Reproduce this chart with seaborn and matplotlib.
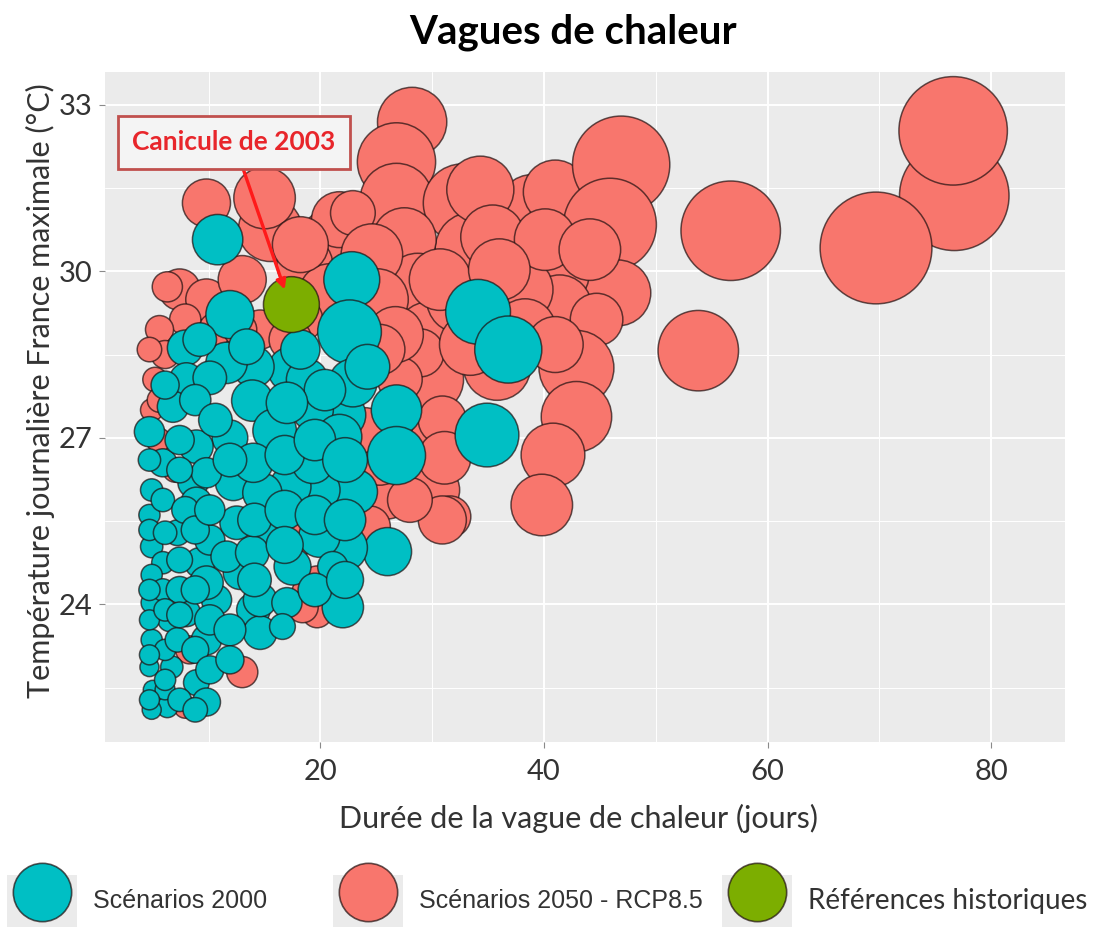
import matplotlib
matplotlib.use("Agg")
import matplotlib.pyplot as plt
from matplotlib.lines import Line2D
from matplotlib.patches import Patch
from matplotlib.legend_handler import HandlerTuple
import pandas as pd
import seaborn as sns

# --- Scénarios 2050 - RCP8.5 (durée en jours, Tmax en °C, sévérité) ---
duree_2050 = [28.2, 26.8, 26.8, 32.7, 33.6, 39.0, 41.0, 34.3, 46.9, 45.9,
              46.6, 40.8, 41.4, 44.7, 42.9, 42.9, 40.8, 39.8, 35.4, 36.0,
              35.8, 27.5, 28.7, 29.8, 29.8, 21.1, 21.7, 15.5, 15.0, 22.9,
              9.8, 7.4, 9.8, 13.0, 6.3, 30.1, 31.6, 30.1, 28.9, 27.1,
              30.9, 31.1, 30.9, 26.0, 24.4, 19.1, 19.7, 13.0, 18.6, 20.8,
              24.6, 25.1, 26.7, 32.5, 33.4, 37.8, 38.3, 25.3, 25.3, 24.0,
              19.9, 18.2, 14.6, 17.3, 10.6, 7.9, 5.6, 6.1, 5.2, 4.9,
              5.5, 7.0, 18.2, 19.7, 18.4, 8.3, 7.9, 15.9, 30.7, 40.1,
              44.1, 36.0, 41.0, 28.0, 12.8, 18.2, 4.7, 5.6,
              76.7, 76.6, 69.7, 56.7, 53.8]
tmax_2050 = [32.69, 31.97, 31.29, 31.23, 30.39, 31.11, 31.43, 31.47, 31.92, 30.84,
             29.61, 29.97, 29.36, 29.13, 28.26, 27.38, 26.69, 25.79, 30.62, 28.71,
             28.28, 30.57, 29.72, 28.82, 28.05, 30.57, 30.93, 30.75, 31.32, 31.05,
             31.23, 29.67, 29.49, 29.85, 29.72, 26.06, 25.58, 27.02, 28.53, 28.05,
             27.32, 26.64, 25.52, 25.94, 25.40, 24.21, 23.85, 22.78, 30.12, 29.58,
             30.30, 29.49, 28.86, 29.49, 28.68, 29.67, 28.95, 28.59, 26.60, 27.14,
             26.87, 29.13, 28.95, 28.77, 28.95, 29.13, 28.95, 28.50, 28.05, 27.50,
             26.96, 26.42, 25.22, 24.39, 23.95, 23.18, 22.15, 26.78, 29.85, 30.57,
             30.39, 30.03, 28.68, 25.88, 28.95, 30.48, 28.59, 27.68,
             31.36, 32.53, 30.42, 30.73, 28.57]
severite_2050 = [38.4, 49.0, 42.3, 49.0, 44.9, 39.7, 32.5, 36.0, 75.7, 68.9,
                 34.8, 42.3, 32.5, 22.1, 44.9, 39.7, 32.5, 30.3, 32.5, 30.3,
                 36.0, 32.5, 36.0, 39.7, 36.0, 32.5, 25.0, 32.5, 30.3, 16.0,
                 18.5, 13.7, 13.7, 18.5, 7.3, 22.1, 13.7, 16.0, 18.5, 16.0,
                 18.5, 22.1, 18.5, 16.0, 13.7, 10.9, 7.3, 7.8, 25.0, 30.3,
                 30.3, 30.3, 25.0, 36.0, 30.3, 36.0, 30.3, 20.3, 20.3, 16.0,
                 12.3, 16.0, 12.3, 14.4, 9.0, 7.8, 6.3, 6.3, 4.8, 4.0,
                 4.8, 4.8, 10.9, 9.0, 7.8, 6.3, 4.0, 9.0, 30.3, 30.3,
                 30.3, 30.3, 25.0, 16.0, 9.0, 25.0, 4.8, 4.8,
                 96.0, 94.1, 100.0, 79.2, 51.8]

# --- Scénarios 2000 ---
duree_2000 = [10.8, 11.9, 22.8, 22.6, 34.1, 36.8, 34.9, 26.8, 26.8, 23.1,
              26.0, 22.0, 22.1, 19.9, 19.9, 21.9, 19.3, 22.9, 24.2, 17.3,
              14.0, 11.6, 7.9, 9.2, 8.0, 13.9, 15.9, 11.9, 8.9, 4.7,
              6.8, 5.9, 17.3, 12.2, 8.6, 14.8, 17.5, 14.0, 14.6, 12.8,
              8.9, 9.8, 7.2, 9.2, 10.7, 9.8, 8.9, 9.8, 6.7, 6.3,
              4.9, 15.7, 9.8, 10.1, 4.9, 4.9, 4.9, 4.7, 5.0, 5.9,
              6.5, 8.0, 11.6, 13.9, 12.5, 14.6, 17.0, 16.6, 21.1, 4.7,
              4.9, 4.7, 4.9, 4.7, 5.9, 5.9, 6.1, 6.1, 7.2, 7.4,
              7.9, 7.4, 10.1, 18.8, 20.4, 17.0, 21.7, 19.3, 14.0,
              4.7, 4.7, 4.7, 4.7, 6.1, 6.1, 6.1, 7.4, 7.4, 7.4,
              7.4, 8.8, 8.8, 8.8, 8.8, 10.1, 10.1, 10.1, 11.9, 11.9,
              11.9, 14.1, 14.1, 16.8, 16.8, 16.8, 19.5, 19.5, 19.5, 22.2,
              22.2, 22.2, 6.1, 8.8, 10.6, 13.4, 18.2]
tmax_2000 = [30.57, 29.22, 29.85, 28.91, 29.27, 28.59, 27.05, 27.50, 26.68, 26.03,
             24.95, 23.95, 25.02, 25.22, 26.06, 27.41, 27.50, 27.99, 28.28, 28.23,
             28.28, 28.35, 28.62, 28.77, 28.05, 27.67, 27.13, 27.00, 26.84, 27.11,
             27.56, 26.55, 26.12, 26.19, 26.19, 26.01, 24.68, 23.90, 23.49, 24.57,
             25.83, 26.37, 25.29, 24.75, 24.08, 23.36, 22.59, 22.24, 22.87, 22.15,
             22.10, 25.31, 24.39, 25.16, 25.04, 24.03, 23.36, 22.87, 22.46, 24.75,
             23.72, 23.85, 24.86, 24.93, 25.47, 24.08, 24.03, 23.60, 24.68, 26.60,
             26.06, 25.61, 24.53, 23.72, 25.88, 24.26, 23.18, 22.46, 23.36, 24.26,
             25.70, 26.96, 28.08, 28.05, 27.86, 27.63, 27.02, 26.55, 26.55,
             25.34, 24.26, 23.09, 22.28, 25.29, 23.90, 22.64, 26.42, 24.80, 23.81,
             22.28, 25.34, 24.26, 23.18, 22.10, 25.70, 23.72, 22.82, 26.60, 23.54,
             23.00, 25.52, 24.44, 26.69, 25.70, 25.07, 26.96, 25.61, 24.26, 26.60,
             25.52, 24.44, 27.95, 27.68, 27.32, 28.64, 28.59]
severite_2000 = [20.3, 18.5, 25.0, 32.5, 33.6, 36.0, 32.5, 20.3, 27.0, 16.0,
                 18.5, 13.7, 17.6, 13.7, 13.7, 18.5, 13.7, 18.5, 16.0, 16.0,
                 13.7, 13.7, 10.2, 9.0, 9.0, 13.7, 15.2, 10.2, 9.0, 7.3,
                 7.8, 6.3, 13.7, 10.2, 7.3, 12.3, 10.9, 9.0, 9.0, 9.0,
                 7.8, 7.3, 5.3, 7.3, 7.3, 7.3, 5.3, 6.3, 4.0, 3.6,
                 2.9, 10.9, 9.0, 7.3, 4.0, 3.6, 3.6, 2.9, 2.9, 4.0,
                 4.4, 6.3, 7.8, 9.0, 9.0, 9.0, 7.3, 5.3, 7.3, 4.0,
                 4.0, 3.6, 3.6, 3.2, 4.4, 4.0, 3.6, 3.2, 4.8, 5.8,
                 5.8, 6.8, 9.0, 13.7, 13.7, 13.7, 16.0, 13.7, 12.3,
                 3.6, 3.6, 3.2, 3.2, 4.4, 4.0, 3.6, 5.3, 5.3, 5.3,
                 4.4, 6.3, 6.3, 5.8, 4.8, 7.3, 7.3, 6.3, 9.0, 8.1,
                 6.3, 9.0, 9.0, 12.3, 12.3, 10.9, 13.7, 12.3, 9.0, 16.0,
                 13.7, 10.9, 6.3, 7.8, 9.0, 10.2, 12.3]

# --- Références historiques (canicule de 2003) ---
duree_hist = [17.4]
tmax_hist = [29.4]
severite_hist = [25.0]

groupes = ["Scénarios 2000", "Scénarios 2050 - RCP8.5", "Références historiques"]
couleurs = {"Scénarios 2000": "#00BFC4",
            "Scénarios 2050 - RCP8.5": "#F8766D",
            "Références historiques": "#7CAE00"}

# red first, then cyan, then green on top (same draw order as the original)
df = pd.concat([
    pd.DataFrame({"duree": duree_2050, "tmax": tmax_2050, "severite": severite_2050,
                  "groupe": groupes[1]}),
    pd.DataFrame({"duree": duree_2000, "tmax": tmax_2000, "severite": severite_2000,
                  "groupe": groupes[0]}),
    pd.DataFrame({"duree": duree_hist, "tmax": tmax_hist, "severite": severite_hist,
                  "groupe": groupes[2]}),
], ignore_index=True)

sns.set_theme(style="darkgrid", rc={"axes.facecolor": "#EBEBEB",
                                    "grid.color": "white"})
plt.rcParams["font.family"] = ["Lato", "DejaVu Sans"]

edge = (0.12, 0.06, 0.06, 0.7)

fig = plt.figure(figsize=(10.99, 9.35), dpi=100)
ax = fig.add_axes([0.0955, 0.2064, 0.8735, 0.7166])

sns.scatterplot(data=df, x="duree", y="tmax", hue="groupe", size="severite",
                palette=couleurs, sizes=(0, 6480), size_norm=(0, 100),
                edgecolor=edge, linewidth=1.1, legend=False, ax=ax)

ax.set_xlim(0.72, 86.6)
ax.set_ylim(21.52, 33.59)
ax.set_xticks([20, 40, 60, 80])
ax.set_xticks([10, 30, 50, 70], minor=True)
ax.set_yticks([24, 27, 30, 33])
ax.set_yticks([22.5, 25.5, 28.5, 31.5], minor=True)
ax.grid(which="major", color="white", lw=1.4)
ax.grid(which="minor", color="white", lw=0.7)
ax.set_axisbelow(True)
for s in ax.spines.values():
    s.set_visible(False)
ax.tick_params(which="major", length=4, width=0.8, color="#8a8a8a",
               labelsize=21, labelcolor="#333333", pad=5,
               bottom=True, left=True)
ax.tick_params(axis="x", pad=8)
ax.tick_params(which="minor", length=0)

ax.set_xlabel("Durée de la vague de chaleur (jours)", fontsize=22, color="#333333")
ax.set_ylabel("Température journalière France maximale (°C)", fontsize=22, color="#333333")
ax.xaxis.set_label_coords(0.493, -0.092)
ax.yaxis.set_label_coords(-0.052, 0.525)

fig.text(0.521, 0.966, "Vagues de chaleur", ha="center", va="center",
         fontsize=29, fontweight="bold", color="black")

# annotation for the 2003 heat wave
ax.annotate("Canicule de 2003", xy=(16.8, 29.67), xytext=(12.27, 32.32),
            ha="center", va="center", fontsize=19, fontweight="bold", color="#E8262B",
            bbox=dict(boxstyle="square,pad=0.55", fc="#F4F4F4", ec="#C0504D", lw=2),
            arrowprops=dict(arrowstyle="-|>", color="#FF1A1A", lw=2.4,
                            mutation_scale=14, shrinkA=0, shrinkB=0))

# legend: one entry per group, grey key behind a large circle
legend_pos = {"Scénarios 2000": 0.006,
              "Scénarios 2050 - RCP8.5": 0.303,
              "Références historiques": 0.657}
legend_font = {"Scénarios 2000": (["Liberation Sans"], 18),
               "Scénarios 2050 - RCP8.5": (["Liberation Sans"], 18),
               "Références historiques": (["Lato"], 20)}
for g in groupes:
    fam, fs = legend_font[g]
    fs_px = fs * 100 / 72
    h = (Patch(facecolor="#EBEBEB", edgecolor="none"),
         Line2D([], [], ls="", marker="o", ms=42, mfc=couleurs[g], mec=edge, mew=1.2))
    fig.legend([h], [g], handler_map={tuple: HandlerTuple(ndivide=1, pad=0)},
               loc="center left", bbox_to_anchor=(legend_pos[g], 0.0364),
               frameon=False, prop={"family": fam, "size": fs},
               handlelength=70 / fs_px, handleheight=70 / fs_px,
               handletextpad=16 / fs_px,
               borderpad=0, borderaxespad=0, labelcolor="#333333")

fig.savefig("out.png", dpi=100)
